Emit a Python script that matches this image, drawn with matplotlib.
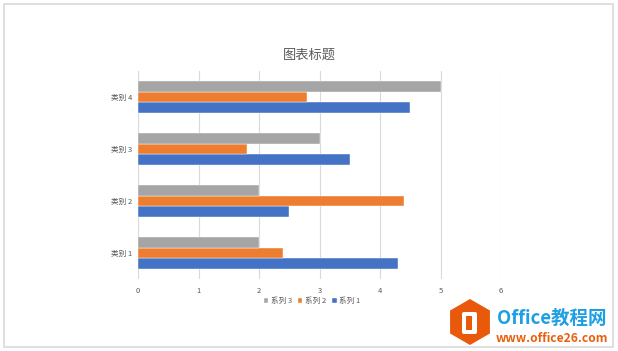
import matplotlib
matplotlib.use("Agg")
import matplotlib.pyplot as plt
from matplotlib.patches import Rectangle, RegularPolygon, FancyBboxPatch
import numpy as np

plt.rcParams['font.family'] = ['Noto Sans CJK SC', 'DejaVu Sans']

categories = ["类别 1", "类别 2", "类别 3", "类别 4"]
series_names = ["系列 1", "系列 2", "系列 3"]
series_1 = [4.3, 2.5, 3.5, 4.5]
series_2 = [2.4, 4.4, 1.8, 2.8]
series_3 = [2, 2, 3, 5]
x_ticks = [0, 1, 2, 3, 4, 5, 6]
colors = ["#4472C4", "#ED7D31", "#A5A5A5"]
title = "图表标题"

fig = plt.figure(figsize=(6.18, 3.51), dpi=100)
fig.patch.set_facecolor("white")

# outer chart border
fig.patches.append(Rectangle((4 / 618, 4 / 351), 609 / 618, 343 / 351,
                             transform=fig.transFigure, fill=False,
                             edgecolor="#D9D9D9", linewidth=1.2))

ax = fig.add_axes([138 / 618, 1 - 279 / 351, 363 / 618, 208 / 351])

y = np.arange(len(categories))
bar_h = 1 / (3 + 1.82)
for i, (vals, col, name) in enumerate(zip([series_1, series_2, series_3], colors, series_names)):
    ax.barh(y + (i - 1) * bar_h, vals, height=bar_h, color=col, label=name,
            edgecolor="white", linewidth=0.3, zorder=3)

ax.set_xlim(0, 6)
ax.set_ylim(-0.5, len(categories) - 0.5)
ax.set_xticks(x_ticks)
ax.set_xticklabels([str(t) for t in x_ticks])
ax.set_yticks(y)
ax.set_yticklabels(categories)
ax.tick_params(axis="both", length=0, labelsize=5.5, labelcolor="#595959")
ax.tick_params(axis="x", pad=6)
ax.tick_params(axis="y", pad=4)
ax.grid(axis="x", color="#D9D9D9", linewidth=0.8, zorder=0)
for s in ax.spines.values():
    s.set_visible(False)

fig.text(309 / 618, 1 - 55 / 351, title, ha="center", va="center",
         fontsize=9.5, color="#595959")

handles, labels = ax.get_legend_handles_labels()
leg = fig.legend(handles[::-1], labels[::-1], loc="center",
                 bbox_to_anchor=(312 / 618, 1 - 301 / 351), ncol=3,
                 frameon=False, fontsize=5.5, handlelength=0.6, handleheight=0.6,
                 handletextpad=0.3, columnspacing=0.8, labelcolor="#595959")

# watermark logo
wm = fig.add_axes([0, 0, 1, 1], facecolor="none")
wm.set_xlim(0, 618)
wm.set_ylim(0, 351)
wm.axis("off")
wm.add_patch(RegularPolygon((470, 351 - 322), numVertices=6, radius=23, orientation=0,
                            facecolor="#E8590C", edgecolor="none"))
wm.add_patch(FancyBboxPatch((462, 351 - 334), 15, 22, boxstyle="round,pad=0,rounding_size=2",
                            facecolor="white", edgecolor="none"))
wm.add_patch(Rectangle((466, 351 - 330), 6, 14, facecolor="#E8590C", edgecolor="none"))
wm.text(497, 351 - 318, "Office教程网", ha="left", va="center", fontsize=13.3,
        fontweight="bold", color="#1E9FE3")
wm.text(496, 351 - 338, "www.office26.com", ha="left", va="center", fontsize=8.7,
        fontweight="bold", color="#E8600F")

fig.savefig("out.png", dpi=100)
